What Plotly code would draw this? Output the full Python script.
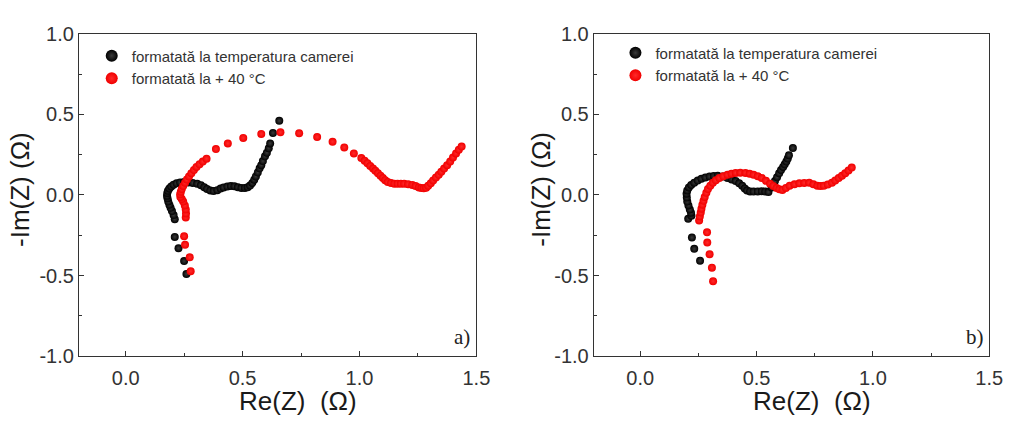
import plotly.graph_objects as go

# Panel a) - formatată la temperatura camerei (black)
a_black_x = [0.26, 0.25, 0.226, 0.21, 0.21, 0.205, 0.198, 0.192, 0.187, 0.182, 0.179, 0.177, 0.178, 0.181, 0.187, 0.195, 0.205, 0.218, 0.233, 0.25, 0.268, 0.287, 0.306, 0.322, 0.336, 0.348, 0.362, 0.376, 0.392, 0.406, 0.419, 0.435, 0.45, 0.465, 0.48, 0.495, 0.51, 0.522, 0.532, 0.542, 0.55, 0.557, 0.565, 0.573, 0.58, 0.587, 0.596, 0.604, 0.612, 0.618, 0.63, 0.657]
a_black_y = [-0.49, -0.41, -0.33, -0.26, -0.15, -0.125, -0.1, -0.08, -0.06, -0.04, -0.02, -0.005, 0.012, 0.026, 0.04, 0.053, 0.064, 0.072, 0.078, 0.08, 0.078, 0.075, 0.069, 0.06, 0.048, 0.037, 0.028, 0.024, 0.03, 0.04, 0.047, 0.053, 0.056, 0.054, 0.048, 0.044, 0.044, 0.048, 0.058, 0.075, 0.095, 0.115, 0.14, 0.165, 0.185, 0.21, 0.24, 0.262, 0.29, 0.32, 0.385, 0.46]

# Panel a) - formatată la + 40 °C (red)
a_red_x = [0.278, 0.274, 0.254, 0.25, 0.257, 0.258, 0.257, 0.253, 0.246, 0.24, 0.234, 0.233, 0.236, 0.24, 0.246, 0.254, 0.262, 0.271, 0.281, 0.292, 0.303, 0.316, 0.33, 0.346, 0.386, 0.437, 0.503, 0.58, 0.662, 0.742, 0.819, 0.885, 0.935, 0.976, 1.008, 1.022, 1.034, 1.046, 1.058, 1.068, 1.079, 1.09, 1.1, 1.11, 1.121, 1.135, 1.149, 1.163, 1.177, 1.191, 1.208, 1.226, 1.24, 1.254, 1.265, 1.275, 1.285, 1.294, 1.305, 1.315, 1.327, 1.339, 1.35, 1.362, 1.375, 1.388, 1.4, 1.413, 1.425, 1.437]
a_red_y = [-0.473, -0.387, -0.309, -0.256, -0.139, -0.115, -0.09, -0.065, -0.04, -0.025, -0.012, 0.005, 0.02, 0.037, 0.056, 0.076, 0.096, 0.115, 0.135, 0.155, 0.174, 0.19, 0.207, 0.225, 0.285, 0.32, 0.354, 0.379, 0.389, 0.383, 0.36, 0.33, 0.295, 0.258, 0.229, 0.213, 0.197, 0.18, 0.164, 0.15, 0.135, 0.12, 0.105, 0.092, 0.08, 0.074, 0.07, 0.07, 0.07, 0.07, 0.067, 0.0625, 0.055, 0.047, 0.043, 0.041, 0.045, 0.057, 0.073, 0.09, 0.108, 0.125, 0.144, 0.164, 0.185, 0.207, 0.232, 0.258, 0.28, 0.30]

# Panel b) - formatată la temperatura camerei (black)
b_black_x = [0.257, 0.232, 0.222, 0.206, 0.22, 0.218, 0.213, 0.207, 0.202, 0.2, 0.199, 0.202, 0.209, 0.219, 0.232, 0.247, 0.263, 0.28, 0.298, 0.316, 0.333, 0.355, 0.375, 0.393, 0.41, 0.425, 0.438, 0.449, 0.459, 0.472, 0.487, 0.505, 0.522, 0.537, 0.551, 0.565, 0.572, 0.579, 0.588, 0.597, 0.605, 0.614, 0.621, 0.628, 0.634, 0.639, 0.656]
b_black_y = [-0.408, -0.334, -0.264, -0.148, -0.129, -0.11, -0.09, -0.065, -0.041, -0.016, 0.008, 0.028, 0.047, 0.062, 0.076, 0.089, 0.1, 0.108, 0.115, 0.118, 0.119, 0.114, 0.105, 0.096, 0.086, 0.072, 0.057, 0.04, 0.027, 0.022, 0.021, 0.022, 0.023, 0.021, 0.018, 0.047, 0.066, 0.086, 0.11, 0.135, 0.155, 0.174, 0.19, 0.207, 0.226, 0.246, 0.291]

# Panel b) - formatată la + 40 °C (red)
b_red_x = [0.313, 0.308, 0.298, 0.288, 0.287, 0.253, 0.256, 0.26, 0.263, 0.267, 0.272, 0.277, 0.284, 0.291, 0.301, 0.312, 0.325, 0.34, 0.357, 0.375, 0.392, 0.41, 0.43, 0.452, 0.47, 0.487, 0.505, 0.522, 0.54, 0.558, 0.572, 0.586, 0.598, 0.611, 0.626, 0.642, 0.663, 0.684, 0.705, 0.726, 0.744, 0.761, 0.775, 0.789, 0.806, 0.824, 0.838, 0.853, 0.867, 0.881, 0.895, 0.909]
b_red_y = [-0.535, -0.451, -0.367, -0.295, -0.232, -0.158, -0.133, -0.109, -0.085, -0.06, -0.036, -0.012, 0.013, 0.037, 0.057, 0.076, 0.091, 0.105, 0.116, 0.125, 0.132, 0.137, 0.138, 0.137, 0.132, 0.125, 0.116, 0.105, 0.088, 0.07, 0.056, 0.043, 0.035, 0.031, 0.043, 0.057, 0.066, 0.072, 0.075, 0.076, 0.066, 0.057, 0.055, 0.057, 0.065, 0.076, 0.09, 0.105, 0.12, 0.135, 0.152, 0.17]

x_ticks = [0.0, 0.5, 1.0, 1.5]
x_tick_labels = ["0.0", "0.5", "1.0", "1.5"]
y_ticks = [-1.0, -0.5, 0.0, 0.5, 1.0]
y_tick_labels = ["-1.0", "-0.5", "0.0", "0.5", "1.0"]

name_black = "formatată la temperatura camerei"
name_red = "formatată la + 40 °C"
x_title = "Re(Z)  (Ω)"
y_title = "-Im(Z) (Ω)"

fig = go.Figure()

def black_marker():
    return dict(color="#000000", size=8,
                gradient=dict(type="radial", color="#3a3a3a"))

def red_marker():
    return dict(color="#f00000", size=8,
                gradient=dict(type="radial", color="#ff2a2a"))

fig.add_trace(go.Scatter(x=a_black_x, y=a_black_y, mode="markers", name=name_black,
                         marker=black_marker(), xaxis="x", yaxis="y", legend="legend"))
fig.add_trace(go.Scatter(x=a_red_x, y=a_red_y, mode="markers", name=name_red,
                         marker=red_marker(), xaxis="x", yaxis="y", legend="legend"))
fig.add_trace(go.Scatter(x=b_black_x, y=b_black_y, mode="markers", name=name_black,
                         marker=black_marker(), xaxis="x2", yaxis="y2", legend="legend2"))
fig.add_trace(go.Scatter(x=b_red_x, y=b_red_y, mode="markers", name=name_red,
                         marker=red_marker(), xaxis="x2", yaxis="y2", legend="legend2"))

axis_col = "#333333"
FONT = "Arial, Liberation Sans, sans-serif"
tickfont = dict(family=FONT, size=20, color="#333333")
titlefont = dict(family=FONT, size=26, color="#1a1a1a")
ytitlefont = dict(family=FONT, size=26, color="#1a1a1a")

def xaxis(domain, anchor):
    return dict(domain=domain, anchor=anchor, range=[-0.2, 1.5],
                tickvals=x_ticks, ticktext=x_tick_labels,
                ticks="inside", ticklen=5, tickwidth=1, tickcolor=axis_col,
                minor=dict(ticks="inside", ticklen=3, dtick=0.25, tick0=0, tickcolor=axis_col),
                showline=True, linecolor=axis_col, linewidth=1, mirror=True,
                showgrid=False, zeroline=False, tickfont=tickfont, ticklabelstandoff=4)

def yaxis(anchor):
    return dict(domain=[0.1435, 0.9435], anchor=anchor, range=[-1.0, 1.0],
                tickvals=y_ticks, ticktext=y_tick_labels,
                ticks="inside", ticklen=5, tickwidth=1, tickcolor=axis_col,
                minor=dict(ticks="inside", ticklen=3, dtick=0.25, tick0=0, tickcolor=axis_col),
                showline=True, linecolor=axis_col, linewidth=1, mirror=True,
                showgrid=False, zeroline=False, tickfont=tickfont)

legend_style = dict(font=dict(family=FONT, size=15, color="#333333"),
                    bgcolor="rgba(255,255,255,0)", borderwidth=0, tracegroupgap=0,
                    itemsizing="constant", xanchor="left", yanchor="top", itemwidth=30)

def paper_ann(text, cx, cy, font, angle=0):
    return dict(text=text, x=cx / 1020, y=1 - cy / 425, xref="paper", yref="paper",
                xanchor="center", yanchor="middle", showarrow=False, textangle=angle, font=font)

panel_font = dict(family="Liberation Serif, Times New Roman, serif", size=21, color="#222222")

fig.update_layout(
    width=1020, height=425,
    margin=dict(l=0, r=0, t=0, b=0),
    paper_bgcolor="white", plot_bgcolor="white",
    xaxis=xaxis([80/1020, 483/1020], "y"),
    yaxis=yaxis("x"),
    xaxis2=xaxis([602/1020, 1003/1020], "y2"),
    yaxis2=yaxis("x2"),
    legend=dict(x=93/1020, y=1 - 30/425, **legend_style),
    legend2=dict(x=624/1020, y=1 - 27/425, **legend_style),
    showlegend=True,
    annotations=[
        paper_ann(x_title, 302, 411, titlefont),
        paper_ann(x_title, 823, 411, titlefont),
        paper_ann(y_title, 21, 188, ytitlefont, -90),
        paper_ann(y_title, 549, 188, ytitlefont, -90),
        dict(text="a)", x=1.44, y=-0.88, xref="x", yref="y", showarrow=False,
             font=panel_font),
        dict(text="b)", x=1.44, y=-0.88, xref="x2", yref="y2", showarrow=False,
             font=panel_font),
    ],
)

fig.write_html("out.html")
